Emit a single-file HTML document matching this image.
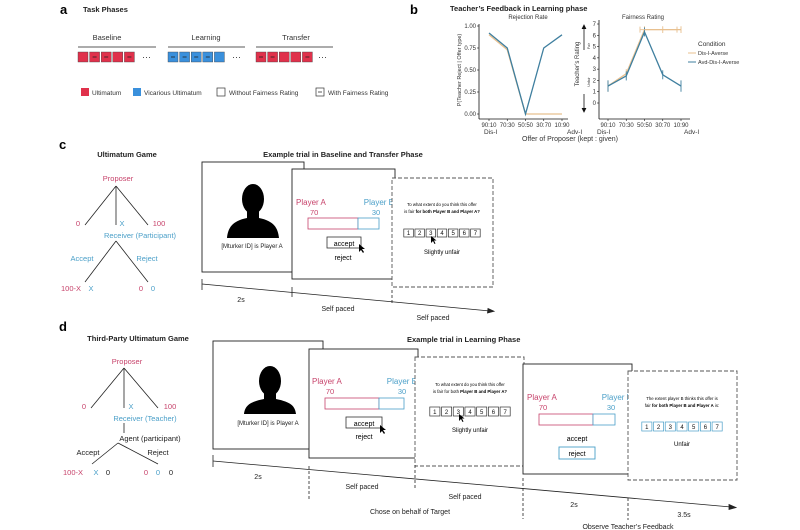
<!DOCTYPE html>
<html><head><meta charset="utf-8"><style>
html,body{margin:0;padding:0;background:#fff}
svg{display:block;font-family:"Liberation Sans",sans-serif}
</style></head><body>
<svg id="fig" width="800" height="530" viewBox="0 0 800 530" xmlns="http://www.w3.org/2000/svg">
<!-- Panel a -->
<g>
<text x="60" y="14" font-size="13" font-weight="bold">a</text>
<text x="83" y="12" font-size="7.5" font-weight="bold" fill="#222">Task Phases</text>
<g font-size="7.5" fill="#333" text-anchor="middle">
<text x="107" y="40">Baseline</text>
<text x="206" y="40">Learning</text>
<text x="296" y="40">Transfer</text>
</g>
<g stroke="#222" stroke-width="0.8">
<line x1="78" y1="47" x2="156" y2="47"/><line x1="168" y1="47" x2="245" y2="47"/><line x1="256" y1="47" x2="333" y2="47"/>
</g>
<g id="phaseSquares"></g>
<g font-size="9" fill="#333"><text x="142" y="60">···</text><text x="232" y="60">···</text><text x="318" y="60">···</text></g>
<g font-size="6.5" fill="#333">
<rect x="81" y="88" width="8" height="8" fill="#e0314b"/><text x="92" y="95">Ultimatum</text>
<rect x="133" y="88" width="8" height="8" fill="#3a90dc"/><text x="144" y="95">Vicarious Ultimatum</text>
<rect x="217" y="88" width="8" height="8" fill="#fff" stroke="#333" stroke-width="0.7"/><text x="229" y="95">Without Fairness Rating</text>
<rect x="316" y="88" width="8" height="8" fill="#fff" stroke="#333" stroke-width="0.7"/><line x1="318" y1="92" x2="322" y2="92" stroke="#333" stroke-width="0.8"/><text x="328" y="95">With Fairness Rating</text>
</g>
</g>

<!-- Panel b -->
<g>
<text x="410" y="14" font-size="13" font-weight="bold">b</text>
<text x="450" y="11" font-size="7.5" font-weight="bold" fill="#222">Teacher’s Feedback in Learning phase</text>
<text x="528" y="19" font-size="6" text-anchor="middle" fill="#333">Rejection Rate</text>
<text x="643" y="19" font-size="6" text-anchor="middle" fill="#333">Fairness Rating</text>
<g id="chartL"></g>
<g id="chartR"></g>
<text x="461" y="70" font-size="5.5" text-anchor="middle" fill="#333" transform="rotate(-90 461 70)">P(Teacher Reject | Offer type)</text>
<text x="579" y="64" font-size="6" text-anchor="middle" fill="#333" transform="rotate(-90 579 64)">Teacher’s Rating</text>
<g stroke="#111" stroke-width="0.8">
<line x1="584" y1="26" x2="584" y2="50"/><path d="M582 29 L584 25 L586 29" fill="#111"/>
<line x1="584" y1="94" x2="584" y2="111"/><path d="M582 108 L584 112 L586 108" fill="#111"/>
</g>
<text x="590" y="46" font-size="3.5" transform="rotate(-90 590 46)" text-anchor="middle" fill="#333">Fair</text>
<text x="590" y="82" font-size="3.5" transform="rotate(-90 590 82)" text-anchor="middle" fill="#333">Unfair</text>
<g font-size="6.5" fill="#333">
<text x="484" y="134">Dis-I</text>
<text x="567" y="134">Adv-I</text>
<text x="597" y="134">Dis-I</text>
<text x="684" y="134">Adv-I</text>
</g>
<text x="570" y="141" font-size="7" text-anchor="middle" fill="#333">Offer of Proposer (kept : given)</text>
<g font-size="5.5" fill="#333">
<text x="698" y="46" font-size="6.5">Condition</text>
<line x1="688" y1="53" x2="696" y2="53" stroke="#e8c08f" stroke-width="1"/><text x="698" y="55">Dis-I-Averse</text>
<line x1="688" y1="62" x2="696" y2="62" stroke="#3f7f9f" stroke-width="1"/><text x="698" y="64">Avd-Dis-I-Averse</text>
</g>
</g>

<!-- Panel c -->
<g>
<text x="59" y="149" font-size="13" font-weight="bold">c</text>
<text x="127" y="157" font-size="7.5" font-weight="bold" text-anchor="middle" fill="#222">Ultimatum Game</text>
<text x="343" y="157" font-size="7.5" font-weight="bold" text-anchor="middle" fill="#222">Example trial in Baseline and Transfer Phase</text>
<g font-size="7.5" text-anchor="middle">
<text x="118" y="181" fill="#c7436b">Proposer</text>
<g stroke="#222" stroke-width="0.8"><line x1="116" y1="186" x2="85" y2="225"/><line x1="116" y1="186" x2="116" y2="225"/><line x1="116" y1="186" x2="148" y2="225"/>
<line x1="116" y1="241" x2="85" y2="282"/><line x1="116" y1="241" x2="148" y2="282"/></g>
<text x="78" y="226" fill="#c7436b">0</text><text x="122" y="226" fill="#4a9fc8">X</text><text x="159" y="226" fill="#c7436b">100</text>
<text x="140" y="238" fill="#4a9fc8">Receiver (Participant)</text>
<text x="82" y="261" fill="#4a9fc8">Accept</text><text x="147" y="261" fill="#4a9fc8">Reject</text>
<text x="71" y="291" fill="#c7436b">100-X</text><text x="91" y="291" fill="#4a9fc8">X</text>
<text x="141" y="291" fill="#c7436b">0</text><text x="153" y="291" fill="#4a9fc8">0</text>
</g>
<g>
<rect x="202" y="162" width="102" height="110" fill="#fff" stroke="#222" stroke-width="0.9"/>
<ellipse cx="253" cy="199" rx="11" ry="15" fill="#000"/><path d="M247 210 L247 218 C232 221 228 228 227 238 L279 238 C278 228 274 221 259 218 L259 210 Z" fill="#000"/>
<text x="252" y="248" font-size="6" text-anchor="middle" fill="#222">[Mturker ID] is Player A</text>
</g>
<g>
<rect x="292" y="169" width="103" height="110" fill="#fff" stroke="#222" stroke-width="0.9"/>
<text x="296" y="205" font-size="8" fill="#c7436b">Player A</text><text x="394" y="205" font-size="8" fill="#4a9fc8" text-anchor="end">Player B</text>
<text x="310" y="215" font-size="7.5" fill="#c7436b">70</text><text x="376" y="215" font-size="7.5" fill="#4a9fc8" text-anchor="middle">30</text>
<rect x="308" y="218" width="50" height="11" fill="#fff" stroke="#c7436b" stroke-width="0.8"/><rect x="358" y="218" width="21" height="11" fill="#fff" stroke="#4a9fc8" stroke-width="0.8"/>
<rect x="327" y="237" width="34" height="11" fill="#fff" stroke="#333" stroke-width="0.8"/>
<text x="344" y="246" font-size="7" text-anchor="middle">accept</text>
<text x="343" y="260" font-size="7" text-anchor="middle">reject</text>
<path d="M359 244 l0 8 l2 -2 l2 3 l1 -1 l-2 -3 l3 0 z" fill="#000"/>
</g>
<g>
<rect x="392" y="178" width="101" height="109" fill="#fff" stroke="#555" stroke-width="0.9" stroke-dasharray="4 2"/>
<text x="442" y="206" font-size="4.3" text-anchor="middle">To what extent do you think this offer</text>
<text x="442" y="213" font-size="4.3" text-anchor="middle">is fair <tspan font-weight="bold">for both Player B and Player A?</tspan></text>
<g id="cBoxes"></g>
<text x="442" y="254" font-size="6" text-anchor="middle">Slightly unfair</text>
<path d="M431 236 l0 7 l2 -2 l1.5 3 l1 -0.5 l-1.5 -3 l2.5 0 z" fill="#000"/>
</g>
<g stroke="#222" stroke-width="0.8">
<line x1="202" y1="284" x2="490" y2="311"/><path d="M488 308.5 L494 311.3 L487.5 313 Z" fill="#222"/>
<line x1="202" y1="279" x2="202" y2="290"/><line x1="292" y1="287" x2="292" y2="297"/><line x1="392" y1="290" x2="392" y2="305" stroke-dasharray="3 2"/>
</g>
<g font-size="7" text-anchor="middle" fill="#222">
<text x="241" y="302">2s</text><text x="338" y="311">Self paced</text><text x="433" y="320">Self paced</text>
</g>
</g>

<!-- Panel d -->
<g>
<text x="59" y="331" font-size="13" font-weight="bold">d</text>
<text x="138" y="341" font-size="7.5" font-weight="bold" text-anchor="middle" fill="#222">Third-Party Ultimatum Game</text>
<text x="407" y="342" font-size="7.5" font-weight="bold" fill="#222">Example trial in Learning Phase</text>
<g font-size="7.5" text-anchor="middle">
<text x="127" y="364" fill="#c7436b">Proposer</text>
<g stroke="#222" stroke-width="0.8"><line x1="124" y1="368" x2="91" y2="408"/><line x1="124" y1="368" x2="124" y2="408"/><line x1="124" y1="368" x2="158" y2="408"/>
<line x1="124" y1="423" x2="124" y2="433"/><line x1="118" y1="443" x2="92" y2="464"/><line x1="118" y1="443" x2="158" y2="464"/></g>
<text x="84" y="409" fill="#c7436b">0</text><text x="131" y="409" fill="#4a9fc8">X</text><text x="170" y="409" fill="#c7436b">100</text>
<text x="145" y="421" fill="#4a9fc8">Receiver (Teacher)</text>
<text x="150" y="441" fill="#222">Agent (participant)</text>
<text x="88" y="455" fill="#222">Accept</text><text x="158" y="455" fill="#222">Reject</text>
<text x="73" y="475" fill="#c7436b">100-X</text><text x="96" y="475" fill="#4a9fc8">X</text><text x="108" y="475" fill="#222">0</text>
<text x="146" y="475" fill="#c7436b">0</text><text x="158" y="475" fill="#4a9fc8">0</text><text x="171" y="475" fill="#222">0</text>
</g>
<g>
<rect x="213" y="341" width="110" height="108" fill="#fff" stroke="#222" stroke-width="0.9"/>
<ellipse cx="270" cy="381" rx="11" ry="15" fill="#000"/><path d="M264 392 L264 399 C249 402 245 406 244 414 L296 414 C295 406 291 402 276 399 L276 392 Z" fill="#000"/>
<text x="268" y="425" font-size="6" text-anchor="middle" fill="#222">[Mturker ID] is Player A</text>
</g>
<g>
<rect x="309" y="349" width="109" height="109" fill="#fff" stroke="#222" stroke-width="0.9"/>
<text x="312" y="384" font-size="8" fill="#c7436b">Player A</text><text x="417" y="384" font-size="8" fill="#4a9fc8" text-anchor="end">Player B</text>
<text x="330" y="394" font-size="7.5" fill="#c7436b" text-anchor="middle">70</text><text x="402" y="394" font-size="7.5" fill="#4a9fc8" text-anchor="middle">30</text>
<rect x="325" y="398" width="54" height="11" fill="#fff" stroke="#c7436b" stroke-width="0.8"/><rect x="379" y="398" width="25" height="11" fill="#fff" stroke="#4a9fc8" stroke-width="0.8"/>
<rect x="346" y="417" width="36" height="11" fill="#fff" stroke="#333" stroke-width="0.8"/>
<text x="364" y="426" font-size="7" text-anchor="middle">accept</text>
<text x="364" y="439" font-size="7" text-anchor="middle">reject</text>
<path d="M380 425 l0 8 l2 -2 l2 3 l1 -1 l-2 -3 l3 0 z" fill="#000"/>
</g>
<g>
<rect x="415" y="357" width="109" height="109" fill="#fff" stroke="#555" stroke-width="0.9" stroke-dasharray="4 2"/>
<text x="470" y="386" font-size="4.3" text-anchor="middle">To what extent do you think this offer</text>
<text x="470" y="393" font-size="4.3" text-anchor="middle">is fair for both <tspan font-weight="bold">Player B and Player A?</tspan></text>
<g id="dBoxes1"></g>
<text x="470" y="432" font-size="6" text-anchor="middle">Slightly unfair</text>
<path d="M459 414 l0 7 l2 -2 l1.5 3 l1 -0.5 l-1.5 -3 l2.5 0 z" fill="#000"/>
</g>
<g>
<rect x="523" y="364" width="109" height="110" fill="#fff" stroke="#222" stroke-width="0.9"/>
<text x="527" y="400" font-size="8" fill="#c7436b">Player A</text><text x="632" y="400" font-size="8" fill="#4a9fc8" text-anchor="end">Player B</text>
<text x="543" y="410" font-size="7.5" fill="#c7436b" text-anchor="middle">70</text><text x="611" y="410" font-size="7.5" fill="#4a9fc8" text-anchor="middle">30</text>
<rect x="539" y="414" width="54" height="11" fill="#fff" stroke="#c7436b" stroke-width="0.8"/><rect x="593" y="414" width="22" height="11" fill="#fff" stroke="#4a9fc8" stroke-width="0.8"/>
<text x="577" y="441" font-size="7" text-anchor="middle">accept</text>
<rect x="559" y="447" width="36" height="12" fill="#fff" stroke="#4a9fc8" stroke-width="0.9"/>
<text x="577" y="456" font-size="7" text-anchor="middle">reject</text>
</g>
<g>
<rect x="628" y="371" width="109" height="109" fill="#fff" stroke="#555" stroke-width="0.9" stroke-dasharray="4 2"/>
<text x="682" y="400" font-size="4.3" text-anchor="middle">The extent player B thinks this offer is</text>
<text x="682" y="407" font-size="4.3" text-anchor="middle">fair <tspan font-weight="bold">for both Player B and Player A</tspan> is:</text>
<g id="dBoxes2"></g>
<text x="682" y="446" font-size="6" text-anchor="middle">Unfair</text>
</g>
<g stroke="#222" stroke-width="0.8">
<line x1="213" y1="461" x2="731" y2="507"/><path d="M729 504.5 L736 507.5 L729 509.5 Z" fill="#222"/>
<line x1="213" y1="455" x2="213" y2="467"/>
<g stroke-dasharray="3 2"><line x1="309" y1="466" x2="309" y2="500"/><line x1="415" y1="465" x2="415" y2="489"/><line x1="523" y1="478" x2="523" y2="519"/><line x1="628" y1="498" x2="628" y2="520"/></g>
</g>
<g font-size="7" text-anchor="middle" fill="#222">
<text x="258" y="479">2s</text><text x="362" y="489">Self paced</text><text x="465" y="499">Self paced</text>
<text x="410" y="514">Chose on behalf of Target</text>
<text x="574" y="507">2s</text><text x="684" y="517">3.5s</text>
<text x="628" y="529">Observe Teacher’s Feedback</text>
</g>
</g>
</svg>
<script>
// ---- Panel b data ----
const offerCategories = ["90:10","70:30","50:50","30:70","10:90"];
const rejectDisI = [0.90, 0.73, 0.0, 0.0, 0.0];
const rejectAvd = [0.92, 0.75, 0.0, 0.75, 0.90];
const ratingDisI = [1.5, 2.6, 6.5, 6.5, 6.5];
const ratingAvd = [1.5, 2.4, 6.3, 2.5, 1.5];
const ratingErrDisI = [0.5, 0.4, 0.3, 0.3, 0.3];
const ratingErrAvd = [0.5, 0.4, 0.4, 0.4, 0.5];
const rejectTicks = [0, 0.25, 0.5, 0.75, 1.0];
const rejectTickLabels = ["0.00","0.25","0.50","0.75","1.00"];
const ratingTicks = [0,1,2,3,4,5,6,7];

const NS = "http://www.w3.org/2000/svg";
function mk(tag, attrs, parent){const e=document.createElementNS(NS,tag);for(const k in attrs)e.setAttribute(k,attrs[k]);parent.appendChild(e);return e;}
const ORANGE="#e8c08f", BLUE="#3f7f9f";

function drawChart(g, cfg){
  const xS = i => cfg.x0 + i*cfg.step;
  const yS = v => cfg.yBase - (v - cfg.vmin)/(cfg.vmax - cfg.vmin)*(cfg.yBase - cfg.yTop);
  mk('line',{x1:cfg.ax,y1:cfg.axTop,x2:cfg.ax,y2:cfg.axBottom,stroke:'#111','stroke-width':0.8},g);
  mk('line',{x1:cfg.ax,y1:cfg.axBottom,x2:cfg.axRight,y2:cfg.axBottom,stroke:'#111','stroke-width':0.8},g);
  cfg.ticks.forEach((t,i)=>{
    const y=yS(t);
    mk('line',{x1:cfg.ax-2,y1:y,x2:cfg.ax,y2:y,stroke:'#111','stroke-width':0.6},g);
    const tx=mk('text',{x:cfg.ax-3,y:y+2,'font-size':6,'text-anchor':'end',fill:'#333'},g);
    tx.textContent=cfg.tickLabels[i];
    
    
  });
  offerCategories.forEach((c,i)=>{
    const x=xS(i);
    mk('line',{x1:x,y1:cfg.axBottom,x2:x,y2:cfg.axBottom+2,stroke:'#111','stroke-width':0.6},g);
    const tx=mk('text',{x:x,y:cfg.axBottom+8,'font-size':6,'text-anchor':'middle',fill:'#333'},g);
    tx.textContent=c;
    
    
  });
  cfg.series.forEach(s=>{
    const pts=s.vals.map((v,i)=>xS(i)+','+yS(v)).join(' ');
    const pl=mk('polyline',{points:pts,fill:'none',stroke:s.color,'stroke-width':1.3},g);
    
    
    if(s.err){
      s.vals.forEach((v,i)=>{
        const x=xS(i), e=s.err[i];
        const eb=mk('line',{x1:x,y1:yS(v-e),x2:x,y2:yS(v+e),stroke:s.color,'stroke-width':0.9},g);
        
        
      });
    }
  });
}
drawChart(document.getElementById('chartL'),{
  x0:489, step:18.25, vmin:0, vmax:1, yBase:114, yTop:26,
  ax:479, axTop:24, axBottom:119, axRight:568,
  ticks:rejectTicks, tickLabels:rejectTickLabels,
  series:[{vals:rejectDisI,color:ORANGE,name:'line-dis-i-averse-rejection'},{vals:rejectAvd,color:BLUE,name:'line-avd-dis-i-averse-rejection'}]
});
drawChart(document.getElementById('chartR'),{
  x0:608, step:18.25, vmin:0, vmax:7, yBase:103, yTop:24,
  ax:599, axTop:20, axBottom:119, axRight:690,
  ticks:ratingTicks, tickLabels:ratingTicks.map(String),
  series:[{vals:ratingDisI,color:ORANGE,name:'line-dis-i-averse-rating',err:ratingErrDisI},{vals:ratingAvd,color:BLUE,name:'line-avd-dis-i-averse-rating',err:ratingErrAvd}]
});
// horizontal orange error bar at peak
(function(){
  const g=document.getElementById('chartR');
  const y=103-6.5/7*79;
  const h=mk('line',{x1:640,y1:y,x2:677,y2:y,stroke:ORANGE,'stroke-width':0.9},g);
  
  
  mk('line',{x1:640,y1:y-3,x2:640,y2:y+3,stroke:ORANGE,'stroke-width':0.9},g);
  mk('line',{x1:677,y1:y-3,x2:677,y2:y+3,stroke:ORANGE,'stroke-width':0.9},g);
})();

// ---- Panel a squares ----
const phaseStarts=[78,168,256];
const phaseColors=["#e0314b","#3a90dc","#e0314b"];
const phaseDash=[[0,1,1,0,1],[1,1,1,1,0],[1,1,0,0,1]];
const sq=document.getElementById('phaseSquares');
phaseStarts.forEach((x0,p)=>{
  phaseDash[p].forEach((d,i)=>{
    const x=x0+i*11.6;
    const r=mk('rect',{x:x,y:52,width:10,height:10,fill:phaseColors[p],stroke:'#444','stroke-width':0.4},sq);
    
    
    if(d) mk('line',{x1:x+3,y1:57,x2:x+7,y2:57,stroke:'#222','stroke-width':0.8},sq);
  });
});

// ---- rating boxes ----
function boxes(id,x0,x1,y,h,color){
  const g=document.getElementById(id);
  const n=7, w=(x1-x0)/n;
  for(let i=0;i<n;i++){
    const r=mk('rect',{x:x0+i*w+0.8,y:y,width:w-1.6,height:h,fill:'#fff',stroke:color,'stroke-width':0.7},g);
    
    
    const t=mk('text',{x:x0+i*w+w/2,y:y+h-2,'font-size':6,'text-anchor':'middle',fill:'#111'},g);
    t.textContent=String(i+1);
  }
}
boxes('cBoxes',403,481,229,8,'#333');
boxes('dBoxes1',429,511,407,9,'#333');
boxes('dBoxes2',641,723,422,9,'#4a9fc8');
</script>
</body></html>
